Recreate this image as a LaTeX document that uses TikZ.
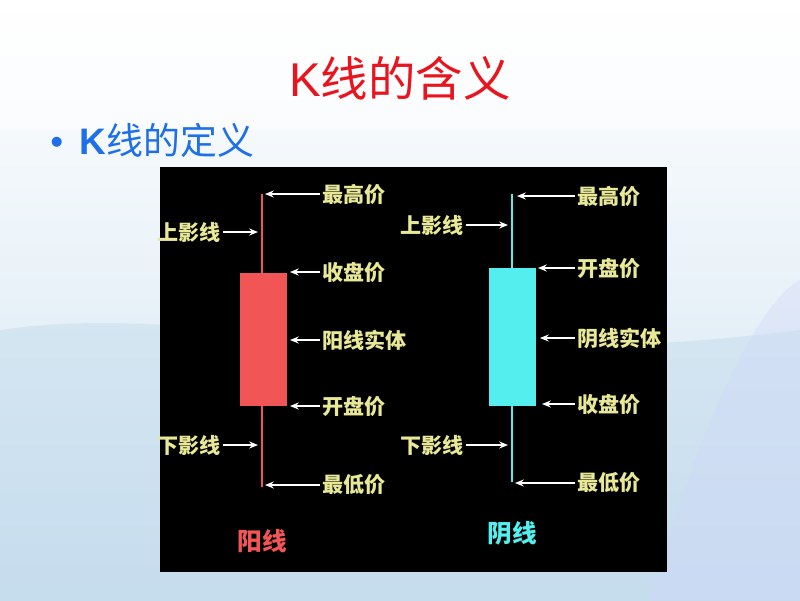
\documentclass[tikz,border=0pt]{standalone}
\usepackage{fontspec}
\setmainfont{Liberation Sans}
\newfontfamily\cjk{Noto Sans CJK SC}
\usepackage{xcolor}
\usetikzlibrary{positioning,calc,arrows.meta}

\definecolor{titlered}{HTML}{E8141E}
\definecolor{bulletblue}{HTML}{1F70E8}
\definecolor{labelyellow}{HTML}{E8E896}
\definecolor{candlered}{HTML}{F25555}
\definecolor{candlecyan}{HTML}{55EEEE}
\definecolor{bgblue}{HTML}{C6DDEE}

\tikzset{
  lbl/.style={text=labelyellow, font=\cjk\bfseries\fontsize{12}{14}\selectfont, inner sep=1pt},
  ptr/.style={-{Stealth[length=5pt,width=4pt]}, white, line width=0.7pt},
  body/.style={inner sep=0pt, minimum width=0.94cm}
}

\begin{document}
\begin{tikzpicture}[x=0.02cm, y=-0.02cm]
    % Slide background
    \useasboundingbox (0,0) rectangle (800,600);
    \shade[top color=white, bottom color=bgblue, middle color=bgblue!40] (0,0) rectangle (800,600);
    \fill[white, opacity=0.5] (0,0) rectangle (800,130);
    \fill[bgblue, opacity=0.5] (0,600) -- (0,330) .. controls (200,300) and (400,380) .. (800,330) -- (800,600) -- cycle;
    \fill[bgblue!70!blue!40, opacity=0.35] (650,600) .. controls (700,420) and (760,300) .. (800,280) -- (800,600) -- cycle;

    % Titles
    \node[text=titlered, font=\fontsize{27}{32}\selectfont] (title) at (400,78) {K\cjk 线的含义};
    \node[text=bulletblue, font=\fontsize{21}{25}\selectfont, anchor=west, inner sep=0pt] (bullet) at (50,140) {\textbullet\hspace{0.45em}\textbf{K}\cjk 线的定义};

    % Chart panel
    \fill[black] (160,167) rectangle (667,572);

    % Red candle
    \coordinate (rTop) at (262,194);
    \coordinate (rBot) at (262,487);
    \draw[candlered, line width=1.2pt] (rTop) -- (rBot); % Wick
    \node[body, fill=candlered, minimum height=2.66cm] (rBox) at (263.5,339.5) {}; % Body
    \foreach \n/\y/\t/\tx in {rHi/194/最高价/265, rClose/272/收盘价/290, rMid/340/阳线实体/290, rOpen/406/开盘价/290, rLow/485/最低价/265}{
        \node[lbl, anchor=west] (\n) at (320,\y) {\t};
        \coordinate (\n tip) at (\tx,\y);
        \draw[ptr] (\n) -- (\n tip);
    }
    \foreach \n/\y/\t in {rUp/232/上影线, rDown/445/下影线}{
        \node[lbl, anchor=east] (\n) at (223,\y) {\t};
        \coordinate (\n tip) at (258,\y);
        \draw[ptr] (\n) -- (\n tip);
    }
    \node[text=candlered, font=\cjk\bfseries\fontsize{14}{17}\selectfont] (rName) at (262,541) {阳线};

    % Cyan candle
    \coordinate (cTop) at (512,194);
    \coordinate (cBot) at (512,482);
    \draw[candlecyan, line width=1.6pt] (cTop) -- (cBot); % Wick
    \node[body, fill=candlecyan, minimum height=2.76cm] (cBox) at (512,337) {}; % Body
    \foreach \n/\y/\t/\tx in {cHi/196/最高价/517, cOpen/268/开盘价/538, cMid/338/阴线实体/540, cClose/404/收盘价/542, cLow/483/最低价/515}{
        \node[lbl, anchor=west] (\n) at (575,\y) {\t};
        \coordinate (\n tip) at (\tx,\y);
        \draw[ptr] (\n) -- (\n tip);
    }
    \foreach \n/\y/\t in {cUp/225/上影线, cDown/445/下影线}{
        \node[lbl, anchor=east] (\n) at (466,\y) {\t};
        \coordinate (\n tip) at (508,\y);
        \draw[ptr] (\n) -- (\n tip);
    }
    \node[text=candlecyan, font=\cjk\bfseries\fontsize{14}{17}\selectfont] (cName) at (512,533) {阴线};
\end{tikzpicture}
\end{document}
